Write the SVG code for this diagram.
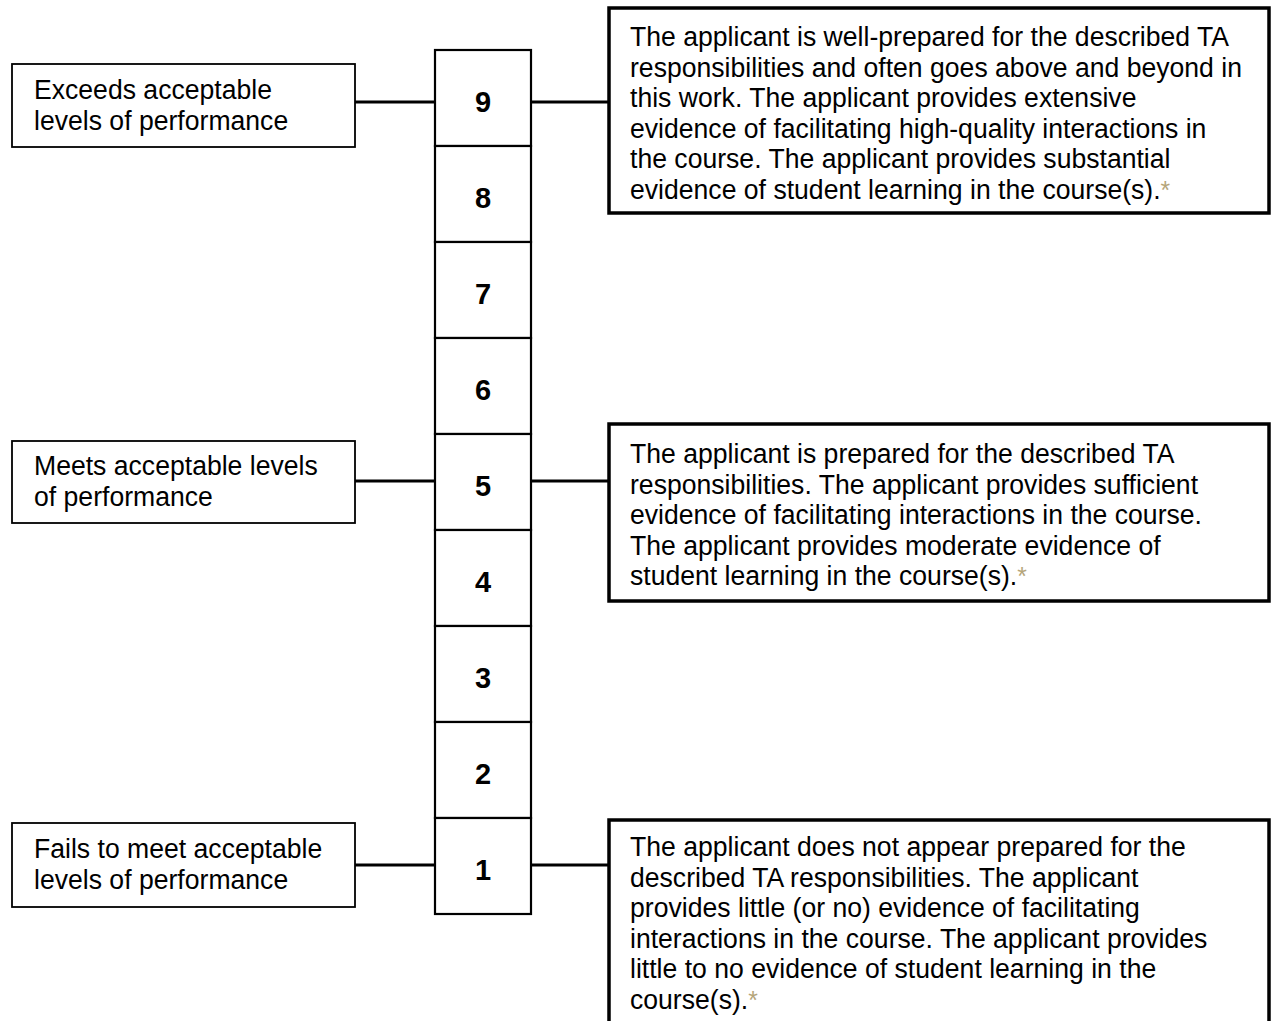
<svg xmlns="http://www.w3.org/2000/svg" width="1271" height="1021" viewBox="0 0 1271 1021">
<style>
.lbl{fill:#fff;stroke:#000;stroke-width:1.8}
.cell{fill:#fff;stroke:#000;stroke-width:2.2}
.desc{fill:#fff;stroke:#000;stroke-width:3.5}
.t{font-family:"Liberation Sans",Arial,sans-serif;font-size:28px;fill:#000}
.n{font-family:"Liberation Sans",Arial,sans-serif;font-size:29px;font-weight:bold;fill:#000;text-anchor:middle}
.ast{fill:#B5A57A;font-size:26px}
.con{stroke:#000;stroke-width:3;fill:none}
</style>
<rect width="1271" height="1021" fill="#fff"/>
<g id="connectors">
<line class="con" x1="355" y1="102" x2="435" y2="102"/>
<line class="con" x1="531" y1="102" x2="609" y2="102"/>
<line class="con" x1="355" y1="481" x2="435" y2="481"/>
<line class="con" x1="531" y1="481" x2="609" y2="481"/>
<line class="con" x1="355" y1="865" x2="435" y2="865"/>
<line class="con" x1="531" y1="865" x2="609" y2="865"/>
</g>
<g id="label-exceeds">
<rect class="lbl" x="12" y="64" width="343" height="83"/>
<g transform="translate(34 0) scale(0.95 1)">
<text class="t" x="0" y="99">Exceeds acceptable</text>
<text class="t" x="0" y="130">levels of performance</text>
</g>
</g>
<g id="label-meets">
<rect class="lbl" x="12" y="441" width="343" height="82"/>
<g transform="translate(34 0) scale(0.95 1)">
<text class="t" x="0" y="475">Meets acceptable levels</text>
<text class="t" x="0" y="506">of performance</text>
</g>
</g>
<g id="label-fails">
<rect class="lbl" x="12" y="823" width="343" height="84"/>
<g transform="translate(34 0) scale(0.95 1)">
<text class="t" x="0" y="858">Fails to meet acceptable</text>
<text class="t" x="0" y="889">levels of performance</text>
</g>
</g>
<g id="cell-9"><rect class="cell" x="435" y="50" width="96" height="96"/><text class="n" x="483" y="112">9</text></g>
<g id="cell-8"><rect class="cell" x="435" y="146" width="96" height="96"/><text class="n" x="483" y="208">8</text></g>
<g id="cell-7"><rect class="cell" x="435" y="242" width="96" height="96"/><text class="n" x="483" y="304">7</text></g>
<g id="cell-6"><rect class="cell" x="435" y="338" width="96" height="96"/><text class="n" x="483" y="400">6</text></g>
<g id="cell-5"><rect class="cell" x="435" y="434" width="96" height="96"/><text class="n" x="483" y="496">5</text></g>
<g id="cell-4"><rect class="cell" x="435" y="530" width="96" height="96"/><text class="n" x="483" y="592">4</text></g>
<g id="cell-3"><rect class="cell" x="435" y="626" width="96" height="96"/><text class="n" x="483" y="688">3</text></g>
<g id="cell-2"><rect class="cell" x="435" y="722" width="96" height="96"/><text class="n" x="483" y="784">2</text></g>
<g id="cell-1"><rect class="cell" x="435" y="818" width="96" height="96"/><text class="n" x="483" y="880">1</text></g>
<g id="desc-exceeds">
<rect class="desc" x="609" y="8" width="660" height="205"/>
<g transform="translate(630 0) scale(0.95 1)">
<text class="t" x="0" y="46">The applicant is well-prepared for the described TA</text>
<text class="t" x="0" y="76.6">responsibilities and often goes above and beyond in</text>
<text class="t" x="0" y="107.2">this work. The applicant provides extensive</text>
<text class="t" x="0" y="137.8">evidence of facilitating high-quality interactions in</text>
<text class="t" x="0" y="168.4">the course. The applicant provides substantial</text>
<text class="t" x="0" y="199">evidence of student learning in the course(s).<tspan class="ast">*</tspan></text>
</g>
</g>
<g id="desc-meets">
<rect class="desc" x="609" y="424" width="660" height="177"/>
<g transform="translate(630 0) scale(0.95 1)">
<text class="t" x="0" y="463">The applicant is prepared for the described TA</text>
<text class="t" x="0" y="493.6">responsibilities. The applicant provides sufficient</text>
<text class="t" x="0" y="524.2">evidence of facilitating interactions in the course.</text>
<text class="t" x="0" y="554.8">The applicant provides moderate evidence of</text>
<text class="t" x="0" y="585.4">student learning in the course(s).<tspan class="ast">*</tspan></text>
</g>
</g>
<g id="desc-fails">
<rect class="desc" x="609" y="820" width="660" height="230"/>
<g transform="translate(630 0) scale(0.95 1)">
<text class="t" x="0" y="856">The applicant does not appear prepared for the</text>
<text class="t" x="0" y="886.6">described TA responsibilities. The applicant</text>
<text class="t" x="0" y="917.2">provides little (or no) evidence of facilitating</text>
<text class="t" x="0" y="947.8">interactions in the course. The applicant provides</text>
<text class="t" x="0" y="978.4">little to no evidence of student learning in the</text>
<text class="t" x="0" y="1009">course(s).<tspan class="ast">*</tspan></text>
</g>
</g>
</svg>
